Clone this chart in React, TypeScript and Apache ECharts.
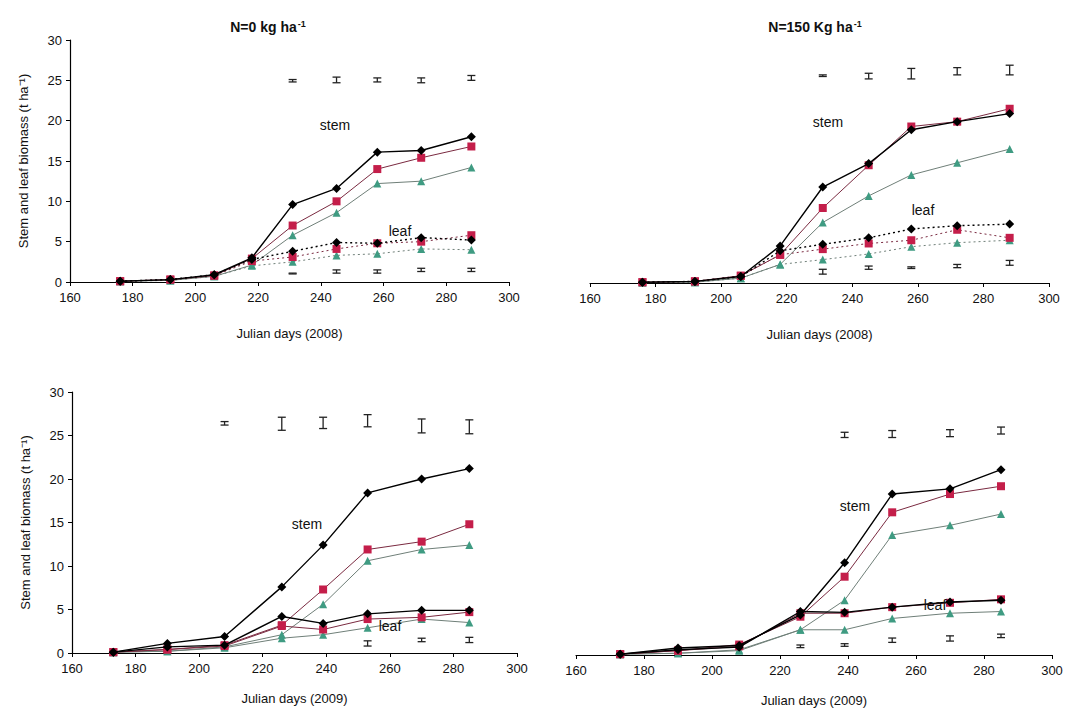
import React, { useEffect, useRef } from "react";
import * as echarts from "echarts";

// ---------- DATA ----------
const days2008 = [176, 192, 206, 218, 231, 245, 258, 272, 288];
const days2009 = [173, 190, 208, 226, 239, 253, 270, 285];

// Panel 1: 2008, N=0
const p1StemBlack = [0.1, 0.3, 0.9, 3.0, 9.6, 11.6, 16.1, 16.3, 18.0];
const p1StemRed = [0.1, 0.3, 0.8, 2.9, 7.0, 10.0, 14.0, 15.4, 16.8];
const p1StemGreen = [0.1, 0.2, 0.7, 2.1, 5.8, 8.6, 12.2, 12.5, 14.2];
const p1LeafBlack = [0.1, 0.3, 0.9, 2.8, 3.8, 4.9, 4.8, 5.5, 5.2];
const p1LeafRed = [0.1, 0.3, 0.8, 2.6, 3.1, 4.1, 4.8, 5.0, 5.8];
const p1LeafGreen = [0.1, 0.2, 0.7, 2.0, 2.5, 3.3, 3.5, 4.1, 4.0];
const p1ErrDays = [231, 245, 258, 272, 288];
const p1ErrTopLow = [24.8, 24.7, 24.8, 24.7, 25.0];
const p1ErrTopHigh = [25.1, 25.4, 25.3, 25.3, 25.6];
const p1ErrBotLow = [1.0, 1.1, 1.1, 1.3, 1.3];
const p1ErrBotHigh = [1.1, 1.5, 1.5, 1.7, 1.7];

// Panel 2: 2008, N=150
const p2StemBlack = [0.1, 0.2, 0.8, 4.6, 11.9, 14.8, 19.0, 20.0, 21.0];
const p2StemRed = [0.1, 0.2, 0.9, 3.5, 9.3, 14.6, 19.4, 20.0, 21.6];
const p2StemGreen = [0.05, 0.1, 0.6, 2.3, 7.5, 10.8, 13.4, 14.9, 16.6];
const p2LeafBlack = [0.1, 0.2, 0.8, 4.0, 4.8, 5.6, 6.7, 7.1, 7.3];
const p2LeafRed = [0.1, 0.2, 0.9, 3.5, 4.2, 4.9, 5.3, 6.6, 5.6];
const p2LeafGreen = [0.05, 0.1, 0.6, 2.3, 2.9, 3.6, 4.5, 5.0, 5.3];
const p2ErrDays = [231, 245, 258, 272, 288];
const p2ErrTopLow = [25.6, 25.3, 25.3, 25.8, 25.8];
const p2ErrTopHigh = [25.8, 26.0, 26.6, 26.7, 27.0];
const p2ErrBotLow = [1.1, 1.7, 1.8, 1.9, 2.2];
const p2ErrBotHigh = [1.7, 2.1, 2.0, 2.3, 2.8];

// Panel 3: 2009, N=0
const p3StemBlack = [0.1, 1.1, 1.9, 7.6, 12.4, 18.4, 20.0, 21.2];
const p3StemRed = [0.1, 0.4, 0.9, 3.2, 7.3, 11.9, 12.8, 14.8];
const p3StemGreen = [0.1, 0.2, 0.7, 2.1, 5.6, 10.6, 11.9, 12.4];
const p3LeafBlack = [0.1, 0.7, 0.9, 4.2, 3.4, 4.5, 4.9, 4.9];
const p3LeafRed = [0.1, 0.4, 0.8, 3.1, 2.7, 3.9, 4.1, 4.7];
const p3LeafGreen = [0.1, 0.2, 0.6, 1.7, 2.1, 2.9, 3.9, 3.5];
const p3ErrDays = [208, 226, 239, 253, 270, 285];
const p3ErrTopLow = [26.2, 25.6, 25.8, 26.0, 25.3, 25.2];
const p3ErrTopHigh = [26.6, 27.1, 27.1, 27.4, 26.9, 26.8];
const p3ErrBotDays = [253, 270, 285];
const p3ErrBotLow = [0.8, 1.3, 1.2];
const p3ErrBotHigh = [1.4, 1.7, 1.8];

// Panel 4: 2009, N=150
const p4StemBlack = [0.1, 0.8, 1.1, 4.6, 10.6, 18.5, 19.1, 21.3];
const p4StemRed = [0.1, 0.5, 1.2, 4.4, 9.0, 16.4, 18.5, 19.4];
const p4StemGreen = [0.1, 0.2, 0.6, 2.9, 6.3, 13.8, 14.9, 16.2];
const p4LeafBlack = [0.1, 0.6, 0.9, 5.0, 4.9, 5.5, 6.1, 6.3];
const p4LeafRed = [0.1, 0.5, 1.0, 4.8, 4.8, 5.5, 6.0, 6.4];
const p4LeafGreen = [0.1, 0.2, 0.5, 2.9, 2.9, 4.2, 4.8, 5.0];
const p4ErrDays = [239, 253, 270, 285];
const p4ErrTopLow = [25.0, 25.0, 25.1, 25.4];
const p4ErrTopHigh = [25.6, 25.8, 25.9, 26.2];
const p4ErrBotDays = [226, 239, 253, 270, 285];
const p4ErrBotLow = [0.85, 1.0, 1.45, 1.6, 2.0];
const p4ErrBotHigh = [1.15, 1.3, 1.95, 2.2, 2.4];

const xTickMin = 160;
const xTickMax = 300;
const xTickStep = 20;
const yTickMin = 0;
const yTickMax = 30;
const yTickStep = 5;

const titles = ["N=0 kg ha", "N=150 Kg ha"];
const xNames = ["Julian days (2008)", "Julian days (2008)", "Julian days (2009)", "Julian days (2009)"];
const yName = "Stem and leaf biomass (t ha⁻¹)";

// ---------- STYLE ----------
const FONT = "'Liberation Sans', Arial, sans-serif";
const TXT = "#111111";
const BLACK = "#000000";
const RED = "#c41e4a";
const RED_LINE = "#7a2a40";
const GREEN = "#3f9b82";
const GREEN_LINE = "#6f7f78";

const zip = (xs: number[], ys: number[]) => xs.map((x, i) => [x, ys[i]]);

function lineSeries(idx: number, xs: number[], ys: number[], kind: "black" | "red" | "green", dotted: boolean) {
  const symbol = kind === "black" ? "diamond" : kind === "red" ? "rect" : "triangle";
  const mColor = kind === "black" ? BLACK : kind === "red" ? RED : GREEN;
  const lColor = kind === "black" ? BLACK : kind === "red" ? RED_LINE : GREEN_LINE;
  return {
    type: "line",
    xAxisIndex: idx,
    yAxisIndex: idx,
    data: zip(xs, ys),
    symbol,
    symbolSize: kind === "black" ? 9 : 8,
    showSymbol: true,
    itemStyle: { color: mColor },
    lineStyle: {
      color: lColor,
      width: kind === "black" ? 1.4 : 1,
      type: dotted ? [2, 3] : "solid",
    },
    z: kind === "black" ? 5 : kind === "red" ? 4 : 3,
  };
}

function errSeries(idx: number, xs: number[], lows: number[], highs: number[]) {
  return {
    type: "custom",
    xAxisIndex: idx,
    yAxisIndex: idx,
    data: xs.map((x, i) => [x, lows[i], highs[i]]),
    renderItem: (_params: any, api: any) => {
      const x = api.value(0);
      const lo = api.coord([x, api.value(1)]);
      const hi = api.coord([x, api.value(2)]);
      const w = 4;
      const style = { stroke: "#222", lineWidth: 1.3 };
      return {
        type: "group",
        children: [
          { type: "line", shape: { x1: lo[0], y1: lo[1], x2: hi[0], y2: hi[1] }, style },
          { type: "line", shape: { x1: lo[0] - w, y1: lo[1], x2: lo[0] + w, y2: lo[1] }, style },
          { type: "line", shape: { x1: hi[0] - w, y1: hi[1], x2: hi[0] + w, y2: hi[1] }, style },
        ],
      };
    },
    z: 6,
  };
}

const grids = [
  { left: 70, top: 40, width: 439, height: 242 },
  { left: 590, top: 41, width: 459, height: 242 },
  { left: 72, top: 392, width: 445, height: 261 },
  { left: 576, top: 394, width: 476, height: 261 },
];

export default function App() {
  const ref = useRef<HTMLDivElement>(null);
  useEffect(() => {
    if (!ref.current) return;
    const chart = echarts.init(ref.current, undefined, { renderer: "svg" });

    const xAxes = grids.map((_g, i) => ({
      type: "value",
      gridIndex: i,
      min: xTickMin,
      max: xTickMax,
      interval: xTickStep,
      name: xNames[i],
      nameLocation: "middle",
      nameGap: i < 2 ? 45 : 39,
      nameTextStyle: { fontFamily: FONT, fontSize: 13, color: TXT },
      axisLine: { show: true, lineStyle: { color: "#000", width: 1.2 } },
      axisTick: { show: true, length: 4, lineStyle: { color: "#000" } },
      axisLabel: { fontFamily: FONT, fontSize: 13, color: TXT, margin: 9 },
      splitLine: { show: false },
    }));

    const yAxes = grids.map((_g, i) => {
      const left = i % 2 === 0;
      return {
        type: "value",
        gridIndex: i,
        min: yTickMin,
        max: yTickMax,
        interval: yTickStep,
        name: left ? yName : "",
        nameLocation: "middle",
        nameGap: 40,
        nameTextStyle: { fontFamily: FONT, fontSize: 13, color: TXT },
        axisLine: { show: left, lineStyle: { color: "#000", width: 1.2 } },
        axisTick: { show: left, length: 4, lineStyle: { color: "#000" } },
        axisLabel: { show: left, fontFamily: FONT, fontSize: 13, color: TXT, margin: 8 },
        splitLine: { show: false },
      };
    });

    const series: any[] = [
      // panel 1
      lineSeries(0, days2008, p1StemGreen, "green", false),
      lineSeries(0, days2008, p1StemRed, "red", false),
      lineSeries(0, days2008, p1StemBlack, "black", false),
      lineSeries(0, days2008, p1LeafGreen, "green", true),
      lineSeries(0, days2008, p1LeafRed, "red", true),
      lineSeries(0, days2008, p1LeafBlack, "black", true),
      errSeries(0, p1ErrDays, p1ErrTopLow, p1ErrTopHigh),
      errSeries(0, p1ErrDays, p1ErrBotLow, p1ErrBotHigh),
      // panel 2
      lineSeries(1, days2008, p2StemGreen, "green", false),
      lineSeries(1, days2008, p2StemRed, "red", false),
      lineSeries(1, days2008, p2StemBlack, "black", false),
      lineSeries(1, days2008, p2LeafGreen, "green", true),
      lineSeries(1, days2008, p2LeafRed, "red", true),
      lineSeries(1, days2008, p2LeafBlack, "black", true),
      errSeries(1, p2ErrDays, p2ErrTopLow, p2ErrTopHigh),
      errSeries(1, p2ErrDays, p2ErrBotLow, p2ErrBotHigh),
      // panel 3
      lineSeries(2, days2009, p3StemGreen, "green", false),
      lineSeries(2, days2009, p3StemRed, "red", false),
      lineSeries(2, days2009, p3StemBlack, "black", false),
      lineSeries(2, days2009, p3LeafGreen, "green", false),
      lineSeries(2, days2009, p3LeafRed, "red", false),
      lineSeries(2, days2009, p3LeafBlack, "black", false),
      errSeries(2, p3ErrDays, p3ErrTopLow, p3ErrTopHigh),
      errSeries(2, p3ErrBotDays, p3ErrBotLow, p3ErrBotHigh),
      // panel 4
      lineSeries(3, days2009, p4StemGreen, "green", false),
      lineSeries(3, days2009, p4StemRed, "red", false),
      lineSeries(3, days2009, p4StemBlack, "black", false),
      lineSeries(3, days2009, p4LeafGreen, "green", false),
      lineSeries(3, days2009, p4LeafRed, "red", false),
      lineSeries(3, days2009, p4LeafBlack, "black", false),
      errSeries(3, p4ErrDays, p4ErrTopLow, p4ErrTopHigh),
      errSeries(3, p4ErrBotDays, p4ErrBotLow, p4ErrBotHigh),
    ];

    const label = (x: number, y: number, text: string) => ({
      type: "text",
      x,
      y,
      style: { text, fontFamily: FONT, fontSize: 14, fill: TXT, textAlign: "center", textVerticalAlign: "middle" },
      z: 10,
    });

    const titleText = (x: number, y: number, text: string) => ({
      type: "text",
      x,
      y,
      style: {
        text: `{a|${text}}{s|-1}`,
        textAlign: "center",
        textVerticalAlign: "middle",
        rich: {
          a: { fontFamily: FONT, fontSize: 14, fontWeight: "bold", fill: TXT, color: TXT },
          s: { fontFamily: FONT, fontSize: 9, fontWeight: "bold", fill: TXT, color: TXT, verticalAlign: "top", padding: [0, 0, 6, 1] },
        },
      },
      z: 10,
    });

    chart.setOption({
      animation: false,
      backgroundColor: "#ffffff",
      grid: grids.map((g) => ({ ...g, containLabel: false })),
      xAxis: xAxes,
      yAxis: yAxes,
      series,
      graphic: [
        titleText(268, 27, titles[0]),
        titleText(815, 27, titles[1]),
        label(335, 125, "stem"),
        label(400, 231, "leaf"),
        label(828, 122, "stem"),
        label(923, 210, "leaf"),
        label(307, 524, "stem"),
        label(390, 626, "leaf"),
        label(855, 506, "stem"),
        label(935, 605, "leaf"),
      ],
    });
    return () => chart.dispose();
  }, []);

  return (
    <div
      ref={ref}
      style={{ position: "absolute", left: 0, top: 0, width: 1075, height: 717, background: "#fff" }}
    />
  );
}
